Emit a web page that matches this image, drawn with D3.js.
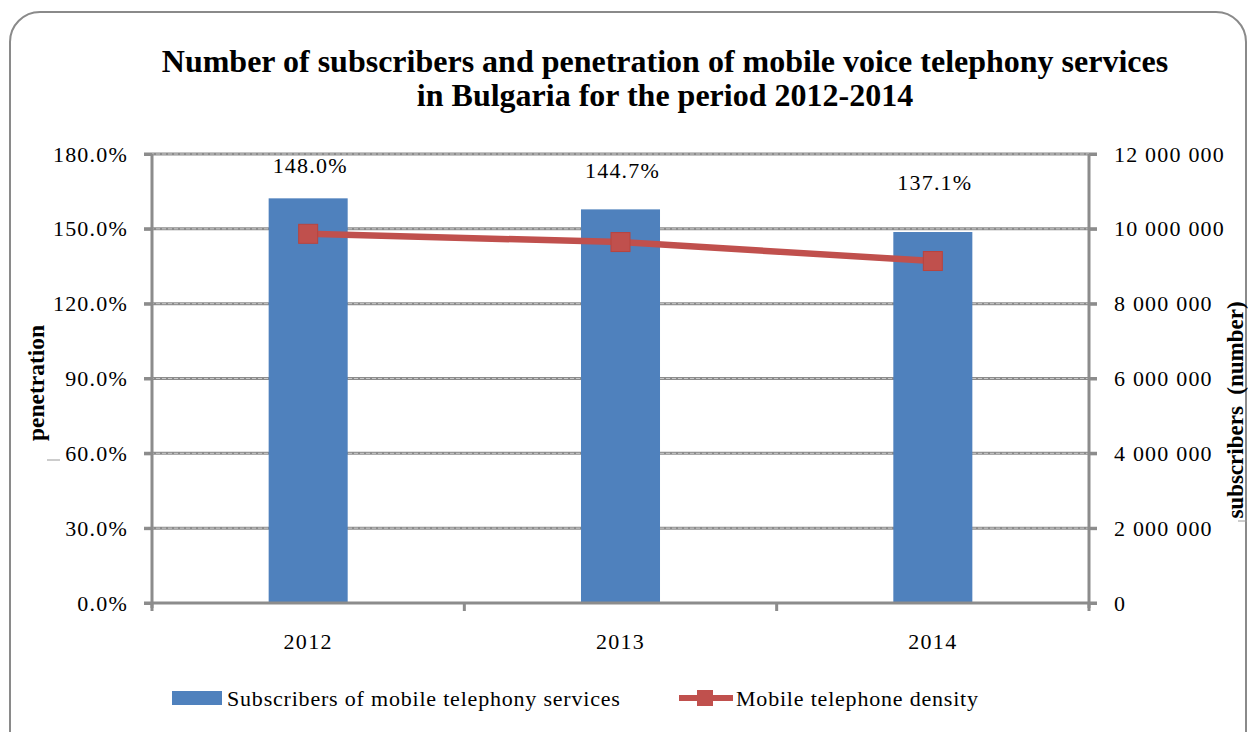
<!DOCTYPE html>
<html>
<head>
<meta charset="utf-8">
<script src="https://cdn.jsdelivr.net/npm/d3@7"></script>
<style>
  html, body { margin: 0; padding: 0; background: #fff; }
  svg { display: block; }
  text { font-family: "Liberation Serif", "Times New Roman", serif; fill: #000; }
</style>
</head>
<body>
<svg id="chart" width="1248" height="732"></svg>
<script>
// Mobile voice telephony in Bulgaria, 2012-2014
const years = ["2012", "2013", "2014"];
const subscribers = [10815000, 10520000, 9915000];   // subscribers (number)
const density = [148.0, 144.7, 137.1];               // penetration, %
const leftTicks = [0, 30, 60, 90, 120, 150, 180];
const rightTicks = [0, 2000000, 4000000, 6000000, 8000000, 10000000, 12000000];

const titleLines = [
  "Number of subscribers and penetration of mobile voice telephony services",
  "in Bulgaria for the period 2012-2014"
];
const seriesNames = ["Subscribers of mobile telephony services", "Mobile telephone density"];

// layout
const plot = { left: 152, right: 1089, top: 154, bottom: 603 };
const labelLift = [61, 64, 71];   // how far each percentage label sits above its point
const barColor = "#4f81bd";
const lineColor = "#c0504d";
const axisColor = "#8c8c8c";
const labelFont = "22px";
const labelSpacing = "1.2px";

const svg = d3.select("#chart");

// rounded frame
svg.append("rect")
  .attr("x", 10).attr("y", 12).attr("width", 1236).attr("height", 780)
  .attr("rx", 30).attr("ry", 30)
  .attr("fill", "#fff").attr("stroke", "#8a8a8a").attr("stroke-width", 2);

// title
svg.append("text")
  .attr("x", 665).attr("y", 72)
  .attr("text-anchor", "middle")
  .style("font-size", "32px").style("font-weight", "bold")
  .selectAll("tspan").data(titleLines).join("tspan")
  .attr("x", 665).attr("dy", (d, i) => i === 0 ? 0 : 34)
  .text(d => d);

const x = d3.scaleBand().domain(years)
  .range([plot.left, plot.right])
  .paddingInner(0.747).paddingOuter(0.3735);
const yL = d3.scaleLinear().domain([0, 180]).range([plot.bottom, plot.top]);
const yR = d3.scaleLinear().domain([0, 12000000]).range([plot.bottom, plot.top]);
const cx = d => x(d) + x.bandwidth() / 2;

const spaceLocale = d3.formatLocale({ decimal: ".", thousands: " ", grouping: [3], currency: ["", ""] });
const fmtRight = spaceLocale.format(",");
const fmtLeft = d => d.toFixed(1) + "%";

// horizontal gridlines
const grid = svg.append("g");
grid.selectAll("line.g").data(leftTicks.filter(t => t > 0)).join("line")
  .attr("x1", plot.left - 8).attr("x2", plot.right + 8)
  .attr("y1", d => yL(d)).attr("y2", d => yL(d))
  .attr("stroke", axisColor).attr("stroke-width", 3);
grid.selectAll("line.h").data(leftTicks.filter(t => t > 0)).join("line")
  .attr("x1", plot.left - 8).attr("x2", plot.right + 8)
  .attr("y1", d => yL(d)).attr("y2", d => yL(d))
  .attr("stroke", "#d8d8d8").attr("stroke-width", 0.8)
  .attr("stroke-dasharray", "4,2");

// bars (right axis)
svg.append("g").selectAll("rect").data(years).join("rect")
  .attr("x", d => x(d))
  .attr("width", x.bandwidth())
  .attr("y", (d, i) => yR(subscribers[i]))
  .attr("height", (d, i) => yR(0) - yR(subscribers[i]))
  .attr("fill", barColor);

// axes
const axisLeft = svg.append("g")
  .attr("transform", `translate(${plot.left},0)`)
  .call(d3.axisLeft(yL).tickValues(leftTicks).tickFormat(fmtLeft).tickSize(8).tickPadding(16));
const axisRight = svg.append("g")
  .attr("transform", `translate(${plot.right},0)`)
  .call(d3.axisRight(yR).tickValues(rightTicks).tickFormat(fmtRight).tickSize(8).tickPadding(17));
const axisBottom = svg.append("g")
  .attr("transform", `translate(0,${plot.bottom})`)
  .call(d3.axisBottom(x).tickSize(0).tickPadding(30));

[axisLeft, axisRight].forEach(g => {
  g.select(".domain").attr("d", `M0,${plot.top}V${plot.bottom + 5}`)
    .attr("stroke", axisColor).attr("stroke-width", 3);
  g.selectAll(".tick line").attr("stroke", axisColor).attr("stroke-width", 3);
  g.selectAll(".tick text")
    .style("font-family", '"Liberation Serif", serif')
    .style("font-size", labelFont).style("letter-spacing", labelSpacing).attr("fill", "#000");
});
axisRight.selectAll(".tick text").attr("text-anchor", "start");

axisBottom.select(".domain")
  .attr("d", `M${plot.left - 8},0H${plot.right + 8}`)
  .attr("stroke", axisColor).attr("stroke-width", 3);
axisBottom.selectAll(".tick text")
  .style("font-family", '"Liberation Serif", serif')
  .style("font-size", labelFont).style("letter-spacing", "1.3px").attr("fill", "#000");

// category boundary ticks
const bounds = [plot.left].concat(years.map(d => x(d) + x.bandwidth() / 2 + x.step() / 2));
svg.append("g").selectAll("line").data(bounds).join("line")
  .attr("x1", d => d).attr("x2", d => d)
  .attr("y1", plot.bottom).attr("y2", plot.bottom + 8)
  .attr("stroke", axisColor).attr("stroke-width", 3);

// density line (left axis)
const linePts = years.map((d, i) => [cx(d), yL(density[i])]);
svg.append("path")
  .attr("d", d3.line()(linePts))
  .attr("fill", "none").attr("stroke", lineColor).attr("stroke-width", 6.5);
svg.append("g").selectAll("rect").data(linePts).join("rect")
  .attr("x", d => d[0] - 9.5).attr("y", d => d[1] - 9.5)
  .attr("width", 19).attr("height", 19)
  .attr("fill", lineColor).attr("stroke", "#b8443f").attr("stroke-width", 1);

// percentage labels
svg.append("g").selectAll("text").data(years).join("text")
  .attr("x", d => cx(d) + 2)
  .attr("y", (d, i) => yL(density[i]) - labelLift[i])
  .attr("text-anchor", "middle")
  .style("font-size", labelFont).style("letter-spacing", labelSpacing)
  .text((d, i) => fmtLeft(density[i]));

// axis titles
svg.append("text")
  .attr("transform", `translate(44,${383}) rotate(-90)`)
  .attr("text-anchor", "middle")
  .style("font-size", "23.5px").style("font-weight", "bold")
  .text("penetration");
svg.append("line")
  .attr("x1", 47).attr("x2", 60).attr("y1", 460).attr("y2", 460)
  .attr("stroke", "#9a9a9a").attr("stroke-width", 1);
svg.append("text")
  .attr("transform", `translate(1243,${410}) rotate(-90)`)
  .attr("text-anchor", "middle")
  .style("font-size", "23px").style("font-weight", "bold")
  .style("white-space", "pre")
  .text("subscribers  (number)");
svg.append("line")
  .attr("x1", 1238).attr("x2", 1247).attr("y1", 521).attr("y2", 521)
  .attr("stroke", "#9a9a9a").attr("stroke-width", 1);

// legend
const legend = svg.append("g");
legend.append("rect")
  .attr("x", 172).attr("y", 691).attr("width", 50).attr("height", 14)
  .attr("fill", barColor);
legend.append("text")
  .attr("x", 227).attr("y", 706)
  .style("font-size", labelFont).style("letter-spacing", "0.8px")
  .text(seriesNames[0]);
legend.append("line")
  .attr("x1", 679).attr("x2", 733).attr("y1", 698).attr("y2", 698)
  .attr("stroke", lineColor).attr("stroke-width", 6);
legend.append("rect")
  .attr("x", 697).attr("y", 690).attr("width", 16).attr("height", 16)
  .attr("fill", lineColor);
legend.append("text")
  .attr("x", 736).attr("y", 706)
  .style("font-size", labelFont).style("letter-spacing", "0.8px")
  .text(seriesNames[1]);
</script>
</body>
</html>
